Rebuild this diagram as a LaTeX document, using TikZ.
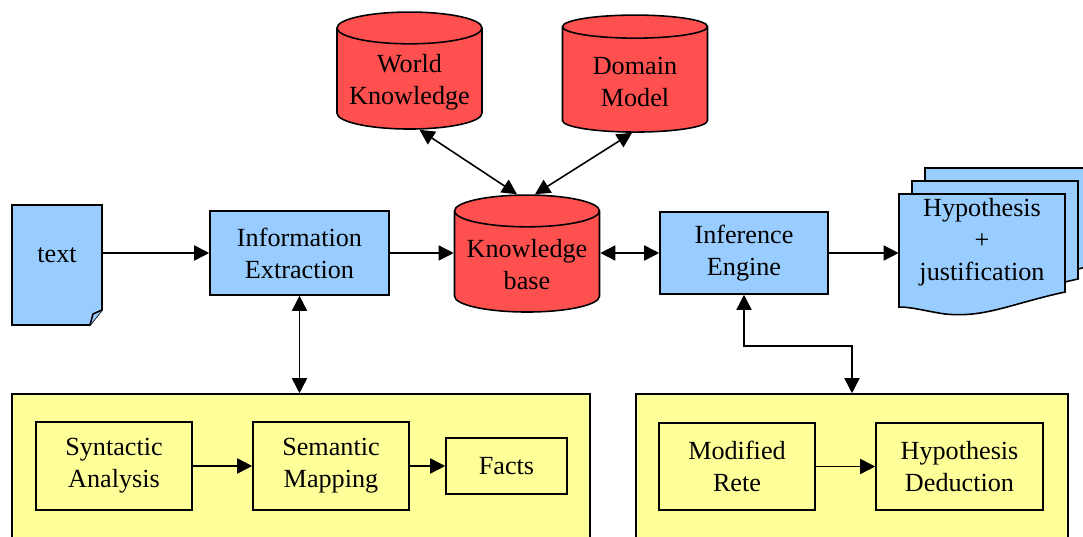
\documentclass[tikz,border=0pt]{standalone}
\usepackage{fontspec}
\setmainfont{Liberation Serif}
\newfontfamily\diagfont{Liberation Serif}
\usepackage{tikz}
\usetikzlibrary{shapes.geometric, arrows.meta, positioning}

\definecolor{docblue}{HTML}{99CCFF}
\definecolor{dbred}{HTML}{FF5050}
\definecolor{panelyellow}{HTML}{FFFF99}

\begin{document}
\begin{tikzpicture}[
    x=0.02cm, y=-0.02cm,
    font=\diagfont\fontsize{14.9}{18.2}\selectfont,
    proc/.style={draw, rectangle, fill=docblue, line width=0.9pt, minimum width=3.58cm, minimum height=1.68cm, align=center},
    db/.style={draw, cylinder, shape border rotate=90, aspect=0.24, fill=dbred, line width=0.9pt, minimum width=2.9cm, minimum height=2.34cm, align=center},
    panel/.style={draw, rectangle, fill=panelyellow, line width=0.9pt, minimum height=3.2cm},
    stage/.style={draw, rectangle, fill=panelyellow, line width=0.9pt, minimum width=3.12cm, minimum height=1.75cm, align=center},
    page/.style={draw, fill=docblue, line width=0.9pt},
    arrow/.style={-{Triangle[length=0.3cm, width=0.3cm]}, line width=0.9pt},
    biarrow/.style={{Triangle[length=0.3cm, width=0.3cm]}-{Triangle[length=0.3cm, width=0.3cm]}, line width=0.9pt}
]
    \useasboundingbox (0,0) rectangle (1083,537);

    % Input document
    \draw[page] (12,205) -- (102,205) -- (102,310) -- (90,325) -- (12,325) -- cycle;
    \draw[page] (90,325) -- (93,314) -- (102,310);
    \node (txt) at (57,255) [minimum width=1.8cm] {text};

    % Main processing chain
    \node[proc] (infoext) at (299.5,253) {Information\\Extraction};
    \node[db] (kb) at (527,265) {Knowledge\\base};
    \node[proc, minimum width=3.36cm, minimum height=1.64cm] (ie) at (744,253) {Inference\\Engine};

    % Knowledge sources
    \node[db] (wk) at (409.5,82) {World\\Knowledge};
    \node[db] (dm) at (635,82) {Domain\\Model};

    % Output pages, stacked
    \foreach \d in {26,13,0} {
        \draw[page] (899+\d,194-\d) -- (1065+\d,194-\d) -- (1065+\d,292-\d)
            .. controls (1010+\d,304-\d) and (985+\d,318-\d) .. (945+\d,314-\d)
            .. controls (925+\d,311-\d) and (912+\d,307-\d) .. (899+\d,307-\d) -- cycle;
    }
    \node (hyp) at (982,242) [minimum width=3.32cm, align=center] {Hypothesis\\+\\justification};

    % Lower panels
    \node[panel, minimum width=11.56cm] (lpanel) at (301,474) {};
    \node[panel, minimum width=8.64cm] (rpanel) at (852,474) {};

    \node[stage] (syn) at (114,466) {Syntactic\\Analysis};
    \node[stage] (sem) at (331,466) {Semantic\\Mapping};
    \node[stage, minimum width=2.42cm, minimum height=1.12cm] (facts) at (506.5,466) {Facts};

    \node[stage] (rete) at (737,466.5) {Modified\\Rete};
    \node[stage, minimum width=3.34cm] (hded) at (959.5,466.5) {Hypothesis\\Deduction};

    % Connections
    \draw[arrow] (txt.east |- infoext.west) -- (infoext.west);
    \draw[arrow] (infoext.east) -- (infoext.east -| kb.west);
    \draw[biarrow] (kb.east |- ie.west) -- (ie.west);
    \draw[arrow] (ie.east) -- (ie.east -| hyp.west);
    \draw[biarrow] ([xshift=0.2cm]wk.south) -- ([xshift=-0.2cm]kb.north);
    \draw[biarrow] ([xshift=-0.06cm]dm.south) -- ([xshift=0.16cm]kb.north);
    \draw[biarrow] (infoext.south) -- (infoext.south |- lpanel.north);
    \draw[biarrow] (ie.south) -- ++(0,51) -| (rpanel.north);

    \draw[arrow] (syn) -- (sem);
    \draw[arrow] (sem) -- (facts);
    \draw[arrow] (rete) -- (hded);

\end{tikzpicture}
\end{document}
